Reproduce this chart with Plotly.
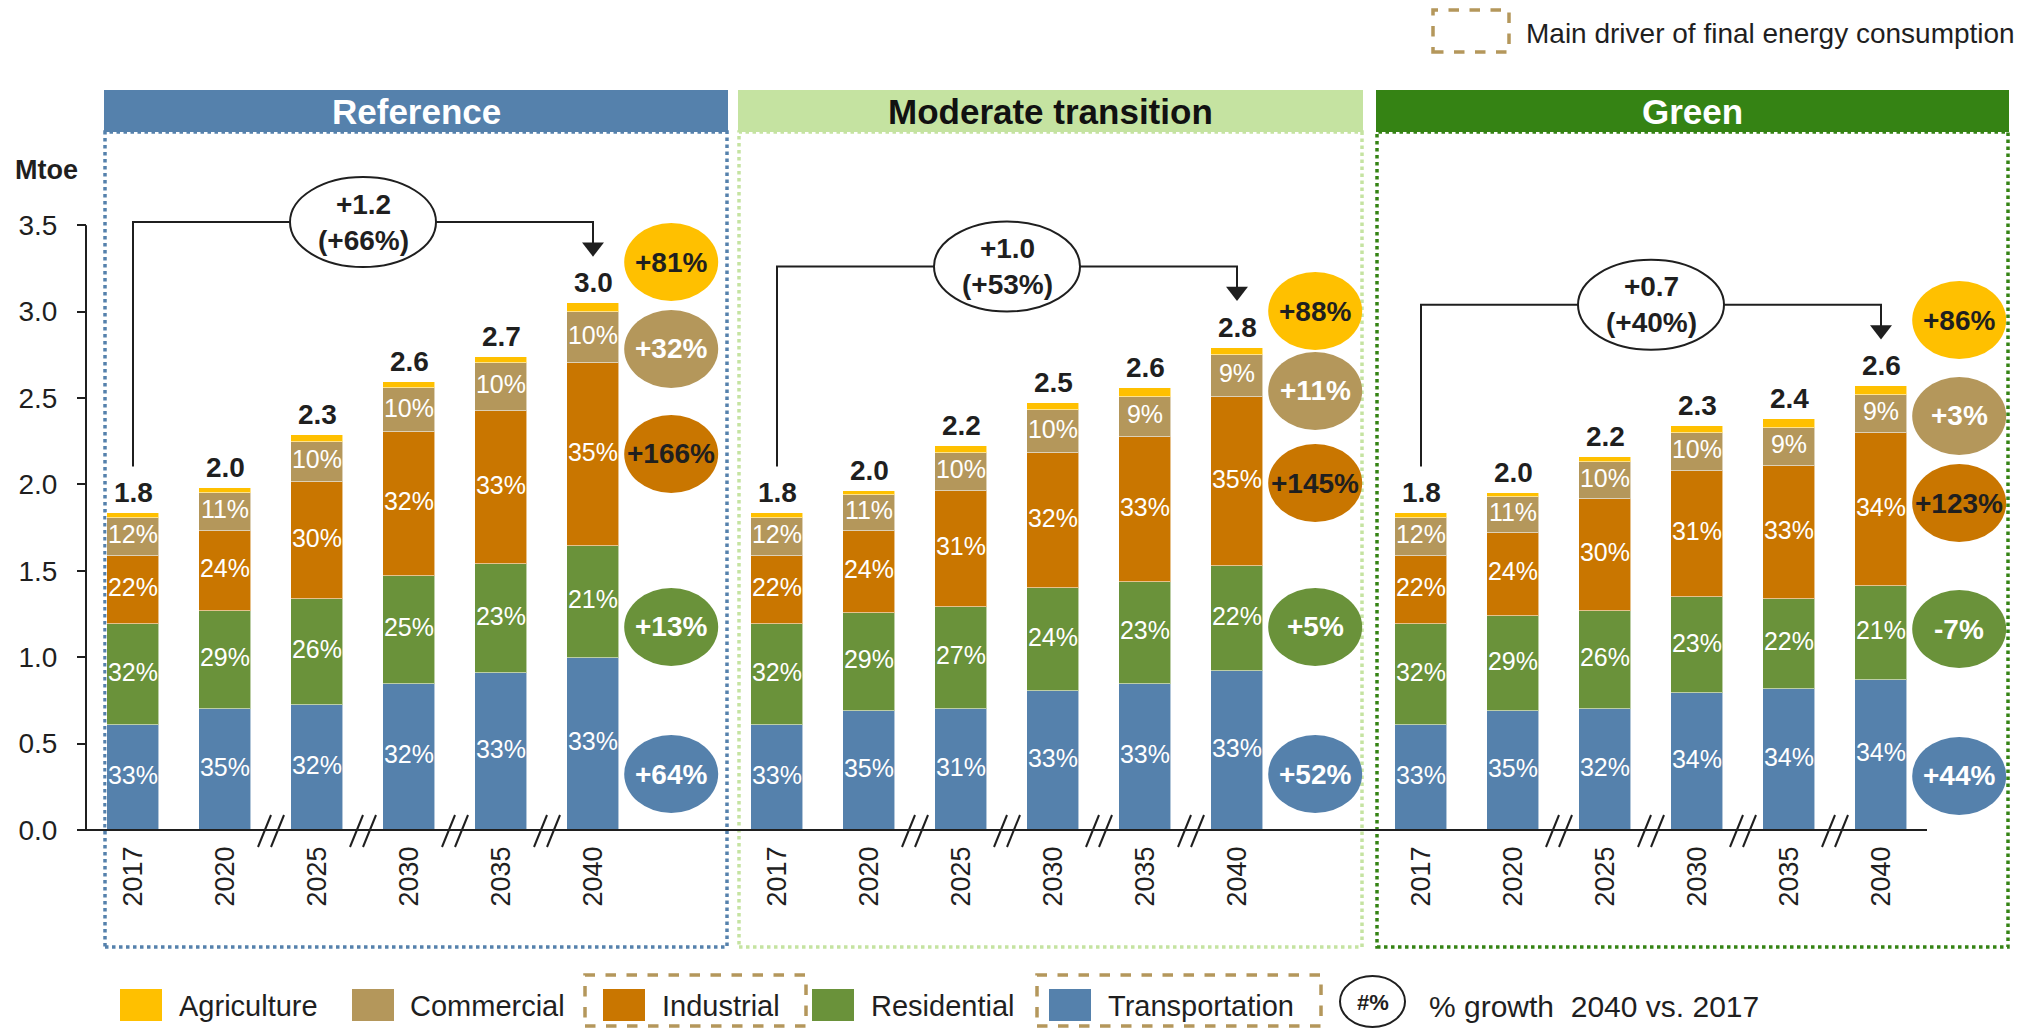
import plotly.graph_objects as go

# ---------------------------------------------------------------- data
years = ["2017", "2020", "2025", "2030", "2035", "2040"]
scenarios = ["Reference", "Moderate transition", "Green"]
sectors = ["Agriculture", "Commercial", "Industrial", "Residential", "Transportation"]

# Final energy consumption, Mtoe
ref_transport = [0.608, 0.702, 0.725, 0.843, 0.907, 0.997]
ref_residential = [0.582, 0.567, 0.610, 0.629, 0.632, 0.645]
ref_industrial = [0.397, 0.463, 0.681, 0.829, 0.888, 1.059]
ref_commercial = [0.220, 0.220, 0.231, 0.255, 0.274, 0.295]
ref_agriculture = [0.026, 0.025, 0.039, 0.038, 0.038, 0.052]

mod_transport = [0.608, 0.689, 0.702, 0.804, 0.843, 0.922]
mod_residential = [0.582, 0.565, 0.590, 0.595, 0.594, 0.604]
mod_industrial = [0.397, 0.478, 0.672, 0.785, 0.836, 0.981]
mod_commercial = [0.220, 0.207, 0.220, 0.247, 0.234, 0.242]
mod_agriculture = [0.026, 0.025, 0.038, 0.038, 0.049, 0.042]

green_transport = [0.608, 0.689, 0.702, 0.791, 0.818, 0.870]
green_residential = [0.582, 0.551, 0.567, 0.556, 0.517, 0.540]
green_industrial = [0.397, 0.481, 0.645, 0.732, 0.771, 0.889]
green_commercial = [0.220, 0.204, 0.217, 0.220, 0.219, 0.218]
green_agriculture = [0.026, 0.027, 0.026, 0.039, 0.052, 0.052]

# share labels
ref_transport_pct = ["33%", "35%", "32%", "32%", "33%", "33%"]
ref_residential_pct = ["32%", "29%", "26%", "25%", "23%", "21%"]
ref_industrial_pct = ["22%", "24%", "30%", "32%", "33%", "35%"]
ref_commercial_pct = ["12%", "11%", "10%", "10%", "10%", "10%"]

mod_transport_pct = ["33%", "35%", "31%", "33%", "33%", "33%"]
mod_residential_pct = ["32%", "29%", "27%", "24%", "23%", "22%"]
mod_industrial_pct = ["22%", "24%", "31%", "32%", "33%", "35%"]
mod_commercial_pct = ["12%", "11%", "10%", "10%", "9%", "9%"]

green_transport_pct = ["33%", "35%", "32%", "34%", "34%", "34%"]
green_residential_pct = ["32%", "29%", "26%", "23%", "22%", "21%"]
green_industrial_pct = ["22%", "24%", "30%", "31%", "33%", "34%"]
green_commercial_pct = ["12%", "11%", "10%", "10%", "9%", "9%"]

# totals
ref_total_lbl = ["1.8", "2.0", "2.3", "2.6", "2.7", "3.0"]
mod_total_lbl = ["1.8", "2.0", "2.2", "2.5", "2.6", "2.8"]
green_total_lbl = ["1.8", "2.0", "2.2", "2.3", "2.4", "2.6"]

# change 2040 vs 2017
delta_abs = ["+1.2", "+1.0", "+0.7"]
delta_pct = ["(+66%)", "(+53%)", "(+40%)"]

# growth per sector 2040 vs 2017 (Agriculture, Commercial, Industrial, Residential, Transportation)
ref_growth = ["+81%", "+32%", "+166%", "+13%", "+64%"]
mod_growth = ["+88%", "+11%", "+145%", "+5%", "+52%"]
green_growth = ["+86%", "+3%", "+123%", "-7%", "+44%"]

yticks = [0.0, 0.5, 1.0, 1.5, 2.0, 2.5, 3.0, 3.5]

# ---------------------------------------------------------------- layout helpers
W, H = 2040, 1028
X0, XS = 133.0, 92.0      # pixel of first bar centre, pixels per slot
Y0, YS = 830.0, 172.8     # pixel of the zero line, pixels per Mtoe


def dx(px):
    return (px - X0) / XS


def dy(py):
    return (Y0 - py) / YS


def PX(px):
    return px / W


def PY(py):
    return 1 - py / H


FONT = "Liberation Sans, Arial, Helvetica, sans-serif"
DARK = "#1f1f1f"
COL = {
    "Agriculture": "#FFC000",
    "Commercial": "#B4975B",
    "Industrial": "#C97600",
    "Residential": "#6A923A",
    "Transportation": "#5581AC",
}
HEAD_FILL = ["#5581AC", "#C5E3A1", "#358314"]
HEAD_TXT = ["white", "#111111", "white"]
BOX_COL = ["#5581AC", "#C5E3A1", "#358314"]
PANEL_X = [(105, 727), (739, 1362), (1377, 2008)]
BUBBLE_DX = 5.85
BUBBLE_Y = [
    [3.287, 2.784, 2.176, 1.175, 0.324],
    [3.003, 2.541, 2.008, 1.175, 0.324],
    [2.951, 2.396, 1.892, 1.163, 0.313],
]
BUBBLE_TXT = [DARK, "white", DARK, "white", "white"]

vals = {
    "Transportation": [ref_transport, mod_transport, green_transport],
    "Residential": [ref_residential, mod_residential, green_residential],
    "Industrial": [ref_industrial, mod_industrial, green_industrial],
    "Commercial": [ref_commercial, mod_commercial, green_commercial],
    "Agriculture": [ref_agriculture, mod_agriculture, green_agriculture],
}
pcts = {
    "Transportation": [ref_transport_pct, mod_transport_pct, green_transport_pct],
    "Residential": [ref_residential_pct, mod_residential_pct, green_residential_pct],
    "Industrial": [ref_industrial_pct, mod_industrial_pct, green_industrial_pct],
    "Commercial": [ref_commercial_pct, mod_commercial_pct, green_commercial_pct],
}
totals_lbl = [ref_total_lbl, mod_total_lbl, green_total_lbl]
growth = [ref_growth, mod_growth, green_growth]
stack_order = ["Transportation", "Residential", "Industrial", "Commercial", "Agriculture"]

xs = [7 * k + i for k in range(3) for i in range(6)]

fig = go.Figure()

# ---------------------------------------------------------------- bars
for s in stack_order:
    yv = vals[s][0] + vals[s][1] + vals[s][2]
    fig.add_trace(go.Bar(
        x=xs, y=yv, width=52 / XS, name=s, showlegend=False, hoverinfo="skip",
        marker=dict(color=COL[s], line=dict(color="rgba(255,255,255,0.55)", width=1)),
    ))

# segment share labels
lx, ly, lt = [], [], []
totals = []
for k in range(3):
    cum = [0.0] * 6
    for s in stack_order:
        v = vals[s][k]
        for i in range(6):
            if s in pcts:
                lx.append(7 * k + i)
                ly.append(cum[i] + v[i] / 2)
                lt.append(pcts[s][k][i])
            cum[i] += v[i]
    totals.append(cum)

fig.add_trace(go.Scatter(
    x=lx, y=ly, text=lt, mode="text", showlegend=False, hoverinfo="skip", cliponaxis=False,
    textfont=dict(color="white", size=25, family=FONT),
))

annotations = []
shapes = []


def note(**kw):
    kw.setdefault("showarrow", False)
    kw.setdefault("xanchor", "center")
    kw.setdefault("yanchor", "middle")
    annotations.append(kw)


# totals above bars
for k in range(3):
    for i in range(6):
        note(x=7 * k + i, y=totals[k][i], xref="x", yref="y", text="<b>%s</b>" % totals_lbl[k][i],
             yanchor="bottom", yshift=3, font=dict(size=28, color=DARK, family=FONT))

# connectors + delta ellipses
for k in range(3):
    base = 7 * k
    t0, t5 = totals[k][0], totals[k][5]
    lvl = t5 + 0.47
    tip = t5 + 0.27
    fig.add_trace(go.Scatter(
        x=[base, base, base + 5, base + 5],
        y=[t0 + 0.27, lvl, lvl, tip + 12 / YS],
        mode="lines", line=dict(color=DARK, width=2), showlegend=False, hoverinfo="skip",
        cliponaxis=False,
    ))
    fig.add_trace(go.Scatter(
        x=[base + 5], y=[tip + 9.5 / YS], mode="markers", showlegend=False, hoverinfo="skip",
        marker=dict(symbol="triangle-down", size=19, color=DARK, line=dict(width=0)),
        cliponaxis=False,
    ))
    cx = base + 2.5
    shapes.append(dict(
        type="circle", xref="x", yref="y",
        x0=cx - 73 / XS, x1=cx + 73 / XS, y0=lvl - 45 / YS, y1=lvl + 45 / YS,
        fillcolor="white", line=dict(color=DARK, width=2), layer="above",
    ))
    note(x=cx, y=lvl, xref="x", yref="y",
         text="<b>%s</b><br><b>%s</b>" % (delta_abs[k], delta_pct[k]),
         font=dict(size=28, color=DARK, family=FONT))

# growth bubbles
for k in range(3):
    bx = 7 * k + BUBBLE_DX
    for j, s in enumerate(sectors):
        by = BUBBLE_Y[k][j]
        shapes.append(dict(
            type="circle", xref="x", yref="y",
            x0=bx - 47 / XS, x1=bx + 47 / XS, y0=by - 39 / YS, y1=by + 39 / YS,
            fillcolor=COL[s], line=dict(width=0), layer="above",
        ))
        note(x=bx, y=by, xref="x", yref="y", text="<b>%s</b>" % growth[k][j],
             font=dict(size=28, color=BUBBLE_TXT[j], family=FONT))

# axis lines
shapes.append(dict(type="line", xref="x", yref="y", x0=dx(86), x1=dx(86), y0=0, y1=yticks[-1],
                   line=dict(color=DARK, width=2)))
shapes.append(dict(type="line", xref="x", yref="y", x0=dx(78), x1=dx(1927), y0=0, y1=0,
                   line=dict(color=DARK, width=2)))

# axis break marks between non-consecutive years
for k in range(3):
    for i in range(1, 5):
        c = 7 * k + i + 0.5
        for off in (-13, 0):
            shapes.append(dict(
                type="line", xref="x", yref="y",
                x0=c + off / XS, x1=c + (off + 13) / XS, y0=-17 / YS, y1=15 / YS,
                line=dict(color=DARK, width=2),
            ))

# panel boxes and headers
for k in range(3):
    xa, xb = PANEL_X[k]
    shapes.append(dict(
        type="rect", xref="paper", yref="paper", x0=PX(xa), x1=PX(xb), y0=PY(947), y1=PY(132),
        line=dict(color=BOX_COL[k], width=3.5, dash="dot"), fillcolor="rgba(0,0,0,0)", layer="below",
    ))
    shapes.append(dict(
        type="rect", xref="paper", yref="paper", x0=PX(xa - 1), x1=PX(xb + 1), y0=PY(132), y1=PY(90),
        line=dict(width=0), fillcolor=HEAD_FILL[k], layer="below",
    ))
    note(x=PX((xa + xb) / 2), y=PY(111), xref="paper", yref="paper",
         text="<b>%s</b>" % scenarios[k], font=dict(size=35, color=HEAD_TXT[k], family=FONT))

# unit label
note(x=PX(13), y=PY(170), xref="paper", yref="paper", xanchor="left",
     text="<b>Mtoe</b>", font=dict(size=27, color=DARK, family=FONT))

# top-right legend (main driver)
DRV = "#B4975B"
shapes.append(dict(type="rect", xref="paper", yref="paper", x0=PX(1433), x1=PX(1509), y0=PY(52), y1=PY(10),
                   line=dict(color=DRV, width=3.5, dash="dash")))
note(x=PX(1524), y=PY(33), xref="paper", yref="paper", xanchor="left",
     text="Main driver of final energy consumption", font=dict(size=28, color=DARK, family=FONT))

# bottom legend
leg = [("Agriculture", 120, 177), ("Commercial", 352, 408), ("Industrial", 603, 660),
       ("Residential", 812, 869), ("Transportation", 1049, 1106)]
for name, sx, tx in leg:
    shapes.append(dict(type="rect", xref="paper", yref="paper", x0=PX(sx), x1=PX(sx + 42),
                       y0=PY(1021), y1=PY(989), fillcolor=COL[name], line=dict(width=0)))
    note(x=PX(tx), y=PY(1006), xref="paper", yref="paper", xanchor="left",
         text=name, font=dict(size=29, color=DARK, family=FONT))
for xa, xb in [(585, 806), (1037, 1321)]:
    shapes.append(dict(type="rect", xref="paper", yref="paper", x0=PX(xa), x1=PX(xb),
                       y0=PY(1026), y1=PY(975), line=dict(color=DRV, width=3.5, dash="dash")))
shapes.append(dict(type="circle", xref="paper", yref="paper", x0=PX(1340), x1=PX(1405),
                   y0=PY(1027), y1=PY(976), line=dict(color=DARK, width=2)))
note(x=PX(1372.5), y=PY(1002), xref="paper", yref="paper",
     text="<b>#%</b>", font=dict(size=22, color=DARK, family=FONT))
note(x=PX(1427), y=PY(1006), xref="paper", yref="paper", xanchor="left",
     text="% growth  2040 vs. 2017", font=dict(size=30, color=DARK, family=FONT))

# ---------------------------------------------------------------- layout
fig.update_layout(
    width=W, height=H, margin=dict(l=0, r=0, t=0, b=0),
    paper_bgcolor="white", plot_bgcolor="rgba(0,0,0,0)",
    barmode="stack", bargap=0, showlegend=False,
    font=dict(family=FONT, color=DARK),
    xaxis=dict(
        domain=[0, 1], range=[dx(0), dx(W)], anchor="free", position=PY(Y0),
        tickmode="array", tickvals=xs, ticktext=years * 3, tickangle=-90,
        ticks="", ticklabelstandoff=10, tickfont=dict(size=27, color=DARK, family=FONT),
        showgrid=False, zeroline=False, showline=False, fixedrange=True,
    ),
    yaxis=dict(
        domain=[0, 1], range=[dy(H), dy(0)], anchor="free", position=PX(86),
        tickmode="array", tickvals=yticks, ticktext=["%.1f" % v for v in yticks],
        ticks="outside", ticklen=9, tickwidth=2, tickcolor=DARK, ticklabelstandoff=14,
        tickfont=dict(size=28, color=DARK, family=FONT),
        showgrid=False, zeroline=False, showline=False, fixedrange=True,
    ),
    shapes=shapes, annotations=annotations,
)

fig.write_html(
    "out.html",
    config={"displayModeBar": False},
    post_script="document.body.style.margin='0';document.body.style.overflow='hidden';",
)
